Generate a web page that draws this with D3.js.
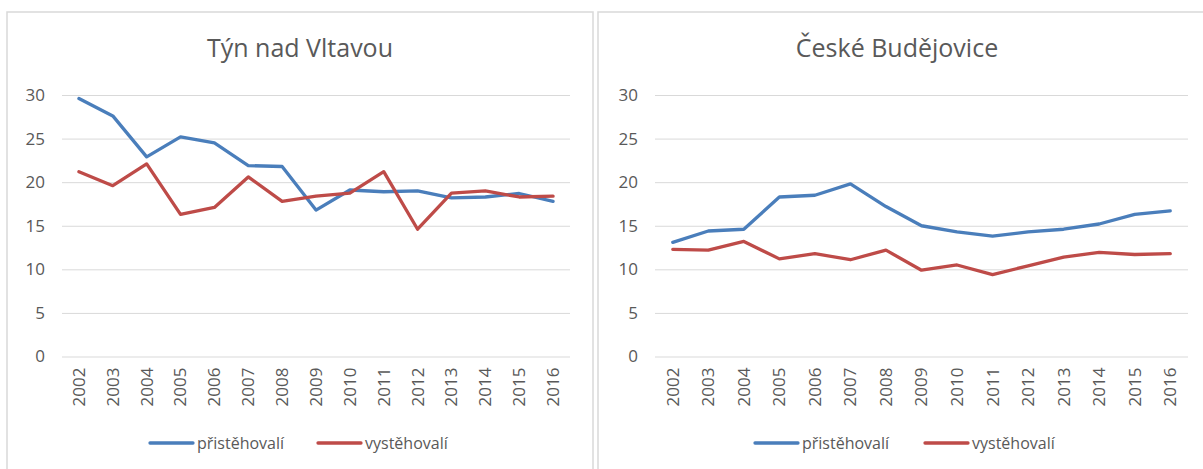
<!DOCTYPE html>
<html><head><meta charset="utf-8">
<script src="https://cdn.jsdelivr.net/npm/d3@7"></script>
<style>
body{margin:0;background:#fff;}
svg{display:block;font-family:"Open Sans",sans-serif;}
</style></head>
<body><svg id="c" width="1203" height="469"></svg>
<script>
const years = ["2002","2003","2004","2005","2006","2007","2008","2009","2010","2011","2012","2013","2014","2015","2016"];
const yTicks = [0,5,10,15,20,25,30];
const seriesNames = ["přistěhovalí","vystěhovalí"];
const seriesColors = ["#4a7ebb","#be4b48"];
const tynPrist = [29.6,27.6,22.9,25.2,24.5,21.9,21.8,16.8,19.1,18.9,19.0,18.2,18.3,18.7,17.8];
const tynVyst  = [21.2,19.6,22.1,16.3,17.1,20.6,17.8,18.4,18.75,21.2,14.6,18.75,19.0,18.3,18.4];
const cbPrist  = [13.1,14.4,14.6,18.3,18.5,19.8,17.2,15.0,14.3,13.8,14.3,14.6,15.2,16.3,16.7];
const cbVyst   = [12.3,12.2,13.2,11.2,11.8,11.1,12.2,9.9,10.5,9.4,10.4,11.4,11.95,11.7,11.8];

const panels = [
  {title:"Týn nad Vltavou", data:[tynPrist,tynVyst], box:[7,12,593,480], plot:[62,570], titleX:300, legend:[150,318]},
  {title:"České Budějovice", data:[cbPrist,cbVyst], box:[598,12,1215,480], plot:[655,1188], titleX:897, legend:[755,925]}
];
const svg = d3.select("#c");
const y = d3.scaleLinear().domain([0,30]).range([356.5,95]);
const txt = "#595959";

panels.forEach(p=>{
  const g = svg.append("g");
  g.append("rect").attr("x",p.box[0]).attr("y",p.box[1]).attr("width",p.box[2]-p.box[0]).attr("height",p.box[3]-p.box[1])
    .attr("fill","#fff").attr("stroke","#d9d9d9").attr("stroke-width",1.5);
  g.append("text").attr("x",p.titleX).attr("y",57).attr("text-anchor","middle").attr("fill",txt)
    .style("font-size","25px").text(p.title);
  const x = d3.scaleBand().domain(years).range(p.plot);
  const yAxis = d3.axisLeft(y).tickValues(yTicks).tickSize(-(p.plot[1]-p.plot[0])).tickPadding(17);
  const ya = g.append("g").attr("transform",`translate(${p.plot[0]},0)`).call(yAxis);
  ya.select(".domain").remove();
  ya.selectAll("line").attr("stroke","#d9d9d9");
  ya.selectAll("text").attr("fill",txt).style("font-size","17px").style("font-family","Open Sans");
  const xAxis = d3.axisBottom(x).tickSize(0).tickPadding(0);
  const xa = g.append("g").attr("transform",`translate(0,${y(0)})`).call(xAxis);
  xa.select(".domain").remove();
  xa.selectAll("text").attr("fill",txt).style("font-size","17px").style("font-family","Open Sans")
    .attr("transform","rotate(-90)").attr("text-anchor","end").attr("x",-11).attr("y",0).attr("dy","0.35em");
  const line = d3.line().x((d,i)=>x(years[i])+x.bandwidth()/2).y(d=>y(d));
  p.data.forEach((s,k)=>{
    g.append("path").datum(s).attr("d",line).attr("fill","none").attr("stroke",seriesColors[k])
      .attr("stroke-width",3.3).attr("stroke-linejoin","round").attr("stroke-linecap","round");
  });
  seriesNames.forEach((n,k)=>{
    const lx = p.legend[k];
    g.append("line").attr("x1",lx).attr("x2",lx+43).attr("y1",443).attr("y2",443)
      .attr("stroke",seriesColors[k]).attr("stroke-width",3.3).attr("stroke-linecap","round");
    g.append("text").attr("x",lx+47).attr("y",443).attr("dy","0.35em").attr("fill",txt)
      .style("font-size","16px").text(n);
  });
});
</script></body></html>
